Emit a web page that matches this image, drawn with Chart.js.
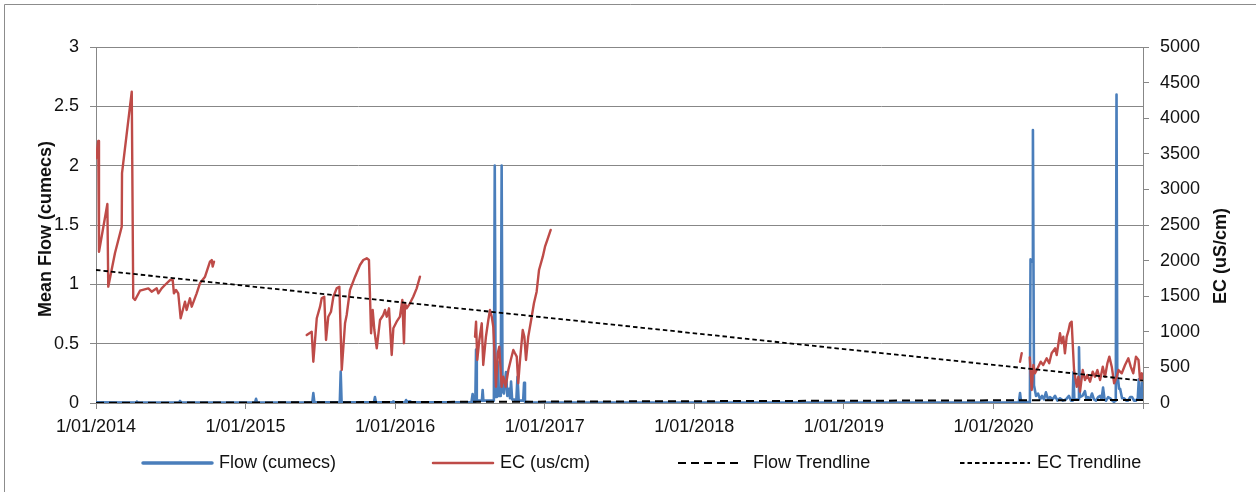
<!DOCTYPE html>
<html><head><meta charset="utf-8">
<script src="https://cdn.jsdelivr.net/npm/chart.js@4.4.1/dist/chart.umd.min.js"></script>
<style>html,body{margin:0;padding:0;background:#fff;}canvas{display:block;}</style>
</head><body>
<canvas id="c" width="1256" height="492"></canvas>
<script>
// ---------- DATA ----------
const xTickYears = [2014, 2015, 2016, 2017, 2018, 2019, 2020, 2021];
const xTickLabels = ['1/01/2014', '1/01/2015', '1/01/2016', '1/01/2017', '1/01/2018', '1/01/2019', '1/01/2020', ''];

const flowYears = [2014.000, 2014.270, 2014.274, 2014.279, 2014.555, 2014.562, 2014.570, 2015.063, 2015.070, 2015.077,
  2015.446, 2015.453, 2015.460, 2015.630, 2015.636, 2015.642, 2015.858, 2015.865, 2015.872, 2015.982, 2015.986, 2015.990,
  2016.066, 2016.073, 2016.080, 2016.100, 2016.108, 2016.510, 2016.518, 2016.525, 2016.536, 2016.541, 2016.546,
  2016.580, 2016.585, 2016.590, 2016.660, 2016.666, 2016.672, 2016.680, 2016.685, 2016.690, 2016.706, 2016.712, 2016.718,
  2016.727, 2016.741, 2016.750, 2016.761, 2016.768, 2016.775, 2016.782, 2016.795, 2016.810, 2016.818, 2016.826,
  2016.856, 2016.862, 2016.868, 2016.910, 2017.500, 2018.500, 2019.500,
  2020.170, 2020.178, 2020.185, 2020.240, 2020.244, 2020.248, 2020.258, 2020.264, 2020.271, 2020.285, 2020.298,
  2020.312, 2020.325, 2020.338, 2020.351, 2020.365, 2020.378, 2020.395, 2020.412, 2020.428, 2020.445, 2020.465,
  2020.485, 2020.505, 2020.518, 2020.530, 2020.535, 2020.541, 2020.566, 2020.572, 2020.578, 2020.595, 2020.612,
  2020.622, 2020.632, 2020.645, 2020.659, 2020.672, 2020.686, 2020.700, 2020.713, 2020.723, 2020.733, 2020.743,
  2020.753, 2020.767, 2020.780, 2020.795, 2020.807, 2020.818, 2020.823, 2020.828, 2020.833, 2020.840, 2020.847,
  2020.860, 2020.874, 2020.888, 2020.900, 2020.914, 2020.927, 2020.940, 2020.953, 2020.965, 2020.972, 2020.980,
  2020.987, 2020.993, 2020.998];
const flowValues = [0.005, 0.004, 0.012, 0.004, 0.004, 0.017, 0.004, 0.004, 0.035, 0.004,
  0.005, 0.084, 0.005, 0.005, 0.264, 0.005, 0.005, 0.05, 0.005, 0.005, 0.012, 0.005,
  0.005, 0.025, 0.008, 0.015, 0.005, 0.005, 0.076, 0.01, 0.01, 0.45, 0.02,
  0.02, 0.11, 0.02, 0.02, 2.0, 0.05, 0.05, 0.35, 0.06, 0.06, 2.0, 0.1,
  0.08, 0.26, 0.06, 0.12, 0.04, 0.18, 0.03, 0.03, 0.02, 0.22, 0.02,
  0.02, 0.17, 0.01, 0.006, 0.004, 0.004, 0.004,
  0.004, 0.084, 0.008, 0.008, 0.03, 1.21, 1.19, 2.3, 0.15, 0.06, 0.08,
  0.03, 0.06, 0.03, 0.09, 0.03, 0.05, 0.03, 0.06, 0.02, 0.04, 0.02,
  0.03, 0.06, 0.02, 0.02, 0.26, 0.03, 0.03, 0.47, 0.05, 0.06, 0.1,
  0.03, 0.05, 0.03, 0.08, 0.03, 0.02, 0.05, 0.06, 0.03, 0.13, 0.03,
  0.02, 0.05, 0.04, 0.02, 0.01, 0.02, 2.6, 0.2, 0.2, 0.12, 0.12,
  0.04, 0.04, 0.02, 0.02, 0.05, 0.05, 0.02, 0.02, 0.04, 0.2, 0.04,
  0.04, 0.17, 0.05];

const ecYears = [2014.000, 2014.015, 2014.020, 2014.076, 2014.082, 2014.127, 2014.172, 2014.174, 2014.239, 2014.249,
  2014.261, 2014.294, 2014.350, 2014.372, 2014.406, 2014.417, 2014.439, 2014.461, 2014.495, 2014.513, 2014.521,
  2014.535, 2014.550, 2014.566, 2014.595, 2014.606, 2014.628, 2014.640, 2014.673, 2014.695, 2014.729, 2014.762,
  2014.774, 2014.780, 2014.789,
  2015.000,
  2015.409, 2015.442, 2015.453, 2015.476, 2015.498, 2015.509, 2015.526, 2015.538, 2015.553, 2015.571, 2015.587,
  2015.609, 2015.627, 2015.643, 2015.665, 2015.676, 2015.698, 2015.732, 2015.765, 2015.787, 2015.810, 2015.825,
  2015.839, 2015.850, 2015.861, 2015.877, 2015.899, 2015.921, 2015.932, 2015.944, 2015.959, 2015.977, 2015.988,
  2016.010, 2016.032, 2016.048, 2016.059, 2016.066, 2016.077, 2016.099, 2016.121, 2016.144, 2016.166,
  2016.300,
  2016.534, 2016.541, 2016.549, 2016.563, 2016.579, 2016.589, 2016.607, 2016.623, 2016.634, 2016.646, 2016.656,
  2016.674, 2016.686, 2016.696, 2016.712, 2016.723, 2016.739, 2016.757, 2016.773, 2016.790, 2016.801, 2016.813,
  2016.823, 2016.835, 2016.853, 2016.864, 2016.875, 2016.890, 2016.913, 2016.928, 2016.946, 2016.957, 2016.962,
  2016.987, 2017.002, 2017.017, 2017.040,
  2018.000,
  2020.178, 2020.189,
  2020.220,
  2020.243, 2020.256, 2020.267, 2020.278, 2020.300, 2020.316, 2020.333, 2020.356, 2020.373, 2020.389, 2020.412,
  2020.423, 2020.445, 2020.456, 2020.467, 2020.478, 2020.490, 2020.500, 2020.512, 2020.523, 2020.530, 2020.539,
  2020.557, 2020.568, 2020.579, 2020.597, 2020.612, 2020.628, 2020.646, 2020.664, 2020.679, 2020.695, 2020.713,
  2020.731, 2020.746, 2020.762, 2020.775, 2020.791, 2020.807, 2020.825, 2020.836, 2020.858, 2020.880, 2020.902,
  2020.918, 2020.935, 2020.953, 2020.970, 2020.980, 2020.992, 2020.998];
const ecValues = [3437, 3680, 2125, 2795, 1634, 2107, 2476, 3230, 4372, 1475,
  1447, 1577, 1610, 1563, 1610, 1540, 1610, 1657, 1727, 1727, 1540,
  1587, 1540, 1190, 1423, 1306, 1470, 1353, 1540, 1681, 1774, 1985,
  2008, 1915, 1985,
  null,
  955, 1002, 580, 1190, 1353, 1470, 1493, 885, 1212, 1282, 1493,
  1610, 1634, 463, 1119, 1236, 1587, 1774, 1938, 2008, 2032, 2008,
  979, 1306, 1025, 768, 1166, 1236, 1306, 1212, 1330, 674, 1049,
  1142, 1212, 1447, 838, 1400, 1330, 1400, 1493, 1610, 1774,
  null,
  931, 1142, 604, 885, 1119, 534, 931, 1166, 1306, 1212, 1072,
  229, 698, 791, 229, 369, 229, 463, 604, 744, 698, 651,
  277, 604, 1025, 931, 604, 931, 1212, 1400, 1563, 1774, 1868,
  2055, 2195, 2289, 2430,
  null,
  580, 698,
  null,
  640, 183, 534, 417, 510, 580, 534, 628, 558, 698, 768,
  674, 979, 838, 931, 698, 931, 1002, 1119, 1142, 838, 463,
  229, 369, 159, 463, 323, 393, 299, 440, 369, 463, 323,
  510, 369, 558, 651, 510, 277, 369, 463, 417, 534, 628,
  510, 417, 651, 604, 323, 417, 323];

const trendYears = [2014, 2021];
const flowTrend = [0.001, 0.026];
const ecTrend = [1868, 313];

// ---------- CHART ----------
const FONT = '"Liberation Sans", Arial, sans-serif';
const GRID = '#878787';
const TXT = '#111111';
Chart.defaults.font.family = FONT;
Chart.defaults.font.size = 18;
Chart.defaults.color = TXT;

const pts = (xs, ys) => xs.map((x, i) => ({x: x, y: ys[i]}));

const legendPos = [
  {x0: 143, x1: 212, tx: 219},
  {x0: 433, x1: 493, tx: 500},
  {x0: 678, x1: 742, tx: 753},
  {x0: 960, x1: 1030, tx: 1037}
];

const decor = {
  id: 'decor',
  beforeDraw(chart) {
    const ctx = chart.ctx;
    ctx.save();
    ctx.fillStyle = '#fff';
    ctx.fillRect(0, 0, chart.width, chart.height);
    ctx.strokeStyle = '#8c8c8c';
    ctx.lineWidth = 1;
    ctx.beginPath();
    ctx.moveTo(4.5, chart.height);
    ctx.lineTo(4.5, 4.5);
    ctx.lineTo(chart.width, 4.5);
    ctx.stroke();
    ctx.restore();
  },
  afterDraw(chart) {
    const ctx = chart.ctx;
    ctx.save();
    ctx.fillStyle = TXT;
    ctx.font = 'bold 18px ' + FONT;
    ctx.textAlign = 'center';
    ctx.textBaseline = 'middle';
    ctx.save();
    ctx.translate(46, 229);
    ctx.rotate(-Math.PI / 2);
    ctx.fillText('Mean Flow (cumecs)', 0, 0);
    ctx.restore();
    ctx.save();
    ctx.translate(1221, 256);
    ctx.rotate(-Math.PI / 2);
    ctx.fillText('EC (uS/cm)', 0, 0);
    ctx.restore();
    // legend
    const y = 463;
    ctx.font = '18px ' + FONT;
    ctx.textAlign = 'left';
    chart.data.datasets.forEach((ds, i) => {
      const p = legendPos[i];
      ctx.save();
      ctx.strokeStyle = ds.borderColor;
      ctx.lineWidth = ds.legendWidth || ds.borderWidth;
      ctx.setLineDash(ds.borderDash || []);
      ctx.lineCap = ds.borderDash ? 'butt' : 'round';
      ctx.beginPath();
      ctx.moveTo(p.x0, y);
      ctx.lineTo(p.x1, y);
      ctx.stroke();
      ctx.restore();
      ctx.fillText(ds.label, p.tx, y);
    });
    ctx.restore();
  }
};

new Chart(document.getElementById('c'), {
  type: 'line',
  data: {
    datasets: [
      {label: 'Flow (cumecs)', data: pts(flowYears, flowValues), yAxisID: 'y', borderColor: '#4a7ebb',
       borderWidth: 2.6, pointRadius: 0, order: 3, borderJoinStyle: 'round', borderCapStyle: 'round', legendWidth: 3.5},
      {label: 'EC (us/cm)', data: pts(ecYears, ecValues), yAxisID: 'y1', borderColor: '#be4b48',
       borderWidth: 2.4, pointRadius: 0, order: 2, borderJoinStyle: 'round', borderCapStyle: 'round', spanGaps: false, legendWidth: 2.5},
      {label: 'Flow Trendline', data: pts(trendYears, flowTrend), yAxisID: 'y', borderColor: '#000000',
       borderWidth: 2, borderDash: [8, 5], pointRadius: 0, order: 1},
      {label: 'EC Trendline', data: pts(trendYears, ecTrend), yAxisID: 'y1', borderColor: '#000000',
       borderWidth: 1.8, borderDash: [4.5, 3], pointRadius: 0, order: 0}
    ]
  },
  options: {
    responsive: false,
    animation: false,
    devicePixelRatio: 1,
    layout: {padding: {top: 47, bottom: 49, left: 0, right: 0}},
    plugins: {legend: {display: false}, tooltip: {enabled: false}},
    elements: {line: {tension: 0}},
    scales: {
      x: {
        type: 'linear', min: 2014, max: 2021,
        afterBuildTicks: s => { s.ticks = xTickYears.map(v => ({value: v})); },
        afterFit: s => { s.height = 40; },
        ticks: {
          autoSkip: false, maxRotation: 0, padding: 7, color: TXT,
          callback: v => { const i = xTickYears.indexOf(v); return i >= 0 ? xTickLabels[i] : ''; }
        },
        grid: {drawOnChartArea: false, drawTicks: true, tickLength: 6, color: GRID, tickColor: GRID},
        border: {display: true, color: GRID, width: 1}
      },
      y: {
        position: 'left', min: 0, max: 3,
        afterFit: s => { s.width = 96; },
        ticks: {stepSize: 0.5, padding: 11, color: TXT, callback: v => String(Math.round(v * 10) / 10)},
        grid: {color: GRID, tickColor: GRID, tickLength: 6, lineWidth: 1},
        border: {display: true, color: GRID, width: 1}
      },
      y1: {
        position: 'right', min: 0, max: 5000,
        afterFit: s => { s.width = 113; },
        ticks: {stepSize: 500, padding: 11, color: TXT, callback: v => String(v)},
        grid: {drawOnChartArea: false, tickColor: GRID, tickLength: 6, color: GRID},
        border: {display: true, color: GRID, width: 1}
      }
    }
  },
  plugins: [decor]
});
</script>
</body></html>
